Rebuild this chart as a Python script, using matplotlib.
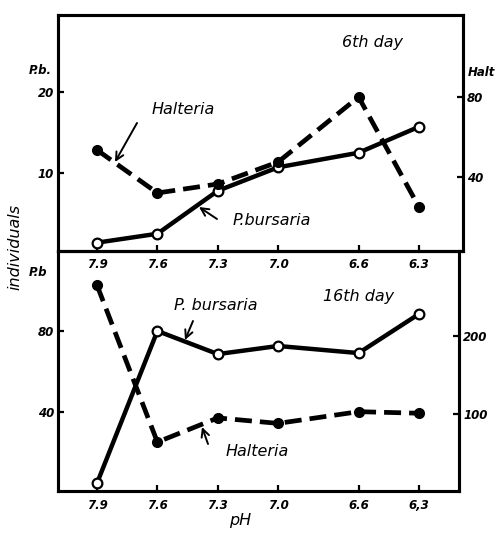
import matplotlib.pyplot as plt
from matplotlib.patches import FancyArrowPatch

W, H = 497, 539

# pH values (x axis runs from alkaline to acid)
ph = [7.9, 7.6, 7.3, 7.0, 6.6, 6.3]
ph_labels = ["7.9", "7.6", "7.3", "7.0", "6.6", "6.3"]
ph_labels_bottom = ["7.9", "7.6", "7.3", "7.0", "6.6", "6,3"]

# 6th day
pb_day6 = [1.4, 2.5, 7.8, 10.7, 12.5, 15.7]
halt_day6 = [53.5, 32, 36.5, 47.5, 80, 25]

# 16th day
pb_day16 = [4.9, 80, 68.6, 72.6, 69.1, 88.4]
halt_day16 = [265, 64, 95, 88, 103, 101]

fig = plt.figure(figsize=(W / 100, H / 100), dpi=100)
fig.patch.set_facecolor("white")


def fx(px):
    return px / W


def fy(py):
    return 1 - py / H


tick_font = dict(fontsize=8.5, fontweight="bold", fontstyle="italic")
label_font = dict(fontsize=11.5, fontstyle="italic", fontweight="medium",
                  family="DejaVu Sans")

solid = dict(color="black", lw=3.2, marker="o", markersize=7,
             markerfacecolor="white", markeredgecolor="black",
             markeredgewidth=1.6, zorder=3)
dashed = dict(color="black", lw=3.4, marker="o", markersize=7,
              markerfacecolor="black", markeredgecolor="black",
              dashes=(3.6, 1.7), zorder=3)


def style(ax):
    ax.patch.set_alpha(0)
    for s in ax.spines.values():
        s.set_linewidth(2.2)
    ax.tick_params(direction="in", length=4, width=1.6, pad=3)
    for t in ax.get_xticklabels() + ax.get_yticklabels():
        t.set_fontweight("bold")
        t.set_fontstyle("italic")
        t.set_fontsize(8.5)


# ---- top panel: 6th day ----
ax1 = fig.add_axes([fx(58), fy(251), fx(463 - 58), (251 - 15) / H])
ax1.plot(ph, pb_day6, **solid)
ax1.set_xlim(8.094, 6.081)
ax1.set_ylim(0.37, 29.5)
ax1.set_xticks(ph)
ax1.set_xticklabels(ph_labels)
ax1.set_yticks([10, 20])
ax1r = ax1.twinx()
ax1r.plot(ph, halt_day6, **dashed)
ax1r.set_ylim(3, 121)
ax1r.set_yticks([40, 80])
style(ax1)
style(ax1r)
ax1.tick_params(axis="x", pad=5)

# ---- bottom panel: 16th day ----
ax2 = fig.add_axes([fx(58), fy(491), fx(459 - 58), (491 - 251) / H])
ax2.plot(ph, pb_day16, **solid)
ax2.set_xlim(8.094, 6.101)
ax2.set_ylim(1, 119.5)
ax2.set_xticks(ph)
ax2.set_xticklabels(ph_labels_bottom)
ax2.set_yticks([40, 80])
ax2r = ax2.twinx()
ax2r.plot(ph, halt_day16, **dashed)
ax2r.set_ylim(1.3, 309)
ax2r.set_yticks([100, 200])
style(ax2)
style(ax2r)
ax2.tick_params(axis="x", pad=6)

# ---- texts ----
fig.text(fx(40), fy(70), "P.b.", ha="center", va="center", **tick_font)
fig.text(fx(468), fy(72), "Halt", ha="left", va="center", **tick_font)
fig.text(fx(38), fy(272), "P.b", ha="center", va="center", **tick_font)
fig.text(fx(15), fy(247), "individuals", rotation=90, ha="center",
         va="center", **label_font)
fig.text(fx(240), fy(521), "pH", ha="center", va="center", **label_font)
fig.text(fx(373), fy(42), "6th day", ha="center", va="center", **label_font)
fig.text(fx(359), fy(297), "16th day", ha="center", va="center", **label_font)

arrow = dict(arrowstyle="->", lw=1.4, color="black",
             shrinkA=0, shrinkB=0, mutation_scale=14)


def note(text, txy, xy_from, xy_to):
    fig.text(fx(txy[0]), fy(txy[1]), text, ha="center", va="center",
             **label_font)
    fig.add_artist(FancyArrowPatch(
        (fx(xy_from[0]), fy(xy_from[1])), (fx(xy_to[0]), fy(xy_to[1])),
        transform=fig.transFigure, **arrow))


note("Halteria", (183, 110), (137, 123), (115, 162))
note("P.bursaria", (272, 221), (217, 219), (199, 207))
note("P. bursaria", (216, 305), (193, 321), (185, 340))
note("Halteria", (257, 452), (208, 444), (202, 427))

fig.savefig("out.png", dpi=100)
